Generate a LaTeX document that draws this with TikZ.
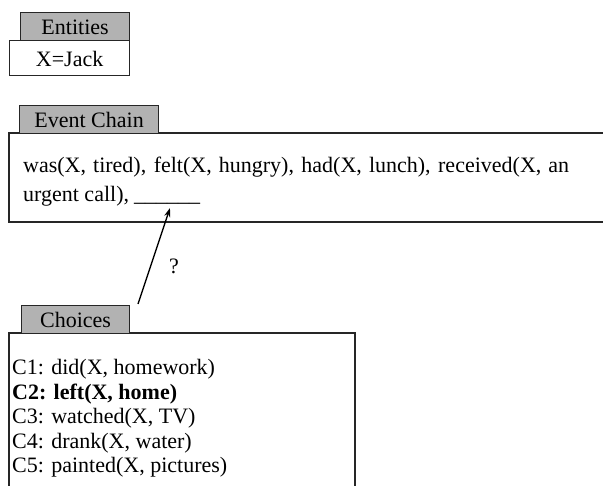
\documentclass[tikz,border=0pt]{standalone}
\usepackage{fontspec}
\setmainfont{Liberation Serif}
\usetikzlibrary{arrows.meta}
\begin{document}
\begin{tikzpicture}[x=1pt,y=-1pt,
  tabbox/.style={draw=black!85,line width=1.2pt,fill=black!30,inner sep=0pt,
    anchor=north west,minimum height=28pt,text height=16pt,text depth=0pt,
    font=\fontsize{22}{26}\selectfont},
  framebox/.style={draw=black!85,line width=1.2pt},
  txt/.style={font=\fontsize{22}{26}\selectfont,inner sep=0pt,anchor=base west},
  lbl/.style={font=\fontsize{22}{26}\selectfont,inner sep=0pt},
  arr/.style={line width=1.4pt,-{Stealth[length=9pt,width=6pt]}}]
\useasboundingbox (0,0) rectangle (603,486);
% Entities
\node[framebox,inner sep=0pt,anchor=north west,minimum width=120pt,minimum height=35pt,
  text height=16pt,text depth=0pt,font=\fontsize{22}{26}\selectfont] (jack) at (9,40) {X=Jack};
\node[tabbox,minimum width=109pt] (enttab) at (20,12) {Entities};
% Event chain
\draw[framebox] (612,133) -| (9,222) -- (612,222);
\node[tabbox,minimum width=139pt] (evtab) at (19,105) {Event Chain};
\node[txt] (ev1) at (23,173) {\makebox[546pt][s]{was(X, tired), felt(X, hungry), had(X, lunch), received(X, an}};
\node[txt] (ev2) at (23,202) {urgent call),};
\node[txt] (blank) at (134,202) {\_\_\_\_\_\_};
% Choices
\draw[framebox] (9,492) |- (355,333) -- (355,492);
\node[tabbox,minimum width=108pt] (chtab) at (21,305) {Choices};
\node[txt] (c1) at (12,375) {C1: did(X, homework)};
\node[txt] (c2) at (12,399.5) {\textbf{C2: left(X, home)}};
\node[txt] (c3) at (12,424) {C3: watched(X, TV)};
\node[txt] (c4) at (12,448.5) {C4: drank(X, water)};
\node[txt] (c5) at (12,473) {C5: painted(X, pictures)};
% arrow
\coordinate (tail) at (138,304);
\coordinate (tip) at (170,208);
\draw[arr] (tail) -- (tip);
\node[lbl] (q) at (174,266) {?};
\end{tikzpicture}
\end{document}
